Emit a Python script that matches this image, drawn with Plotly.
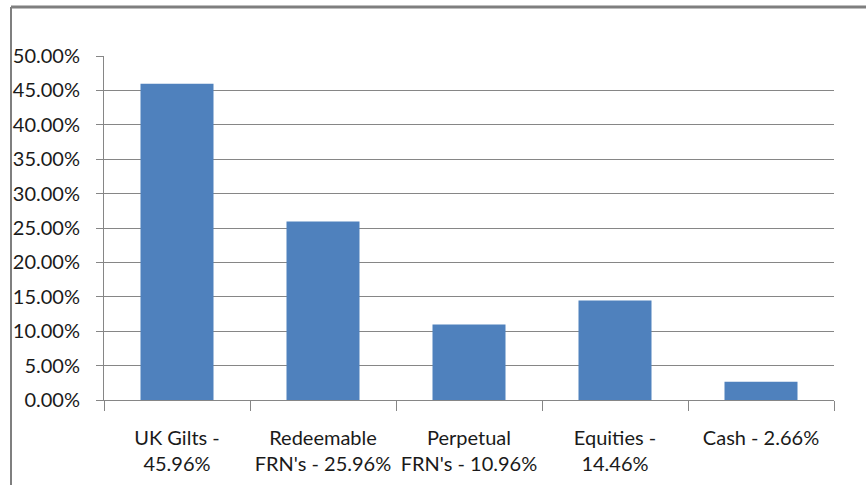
import plotly.graph_objects as go

categories = ["UK Gilts -<br>45.96%", "Redeemable<br>FRN's - 25.96%", "Perpetual<br>FRN's - 10.96%",
              "Equities -<br>14.46%", "Cash - 2.66%"]
values = [0.4596, 0.2596, 0.1096, 0.1446, 0.0266]
y_ticks = [0, 0.05, 0.10, 0.15, 0.20, 0.25, 0.30, 0.35, 0.40, 0.45, 0.50]

W, H = 866, 485
L, R, T, B = 104, 32, 56, 85
pw, ph = W - L - R, H - T - B

def px_x(x):
    return (x - L) / pw

def px_y(y):
    return (H - B - y) / ph

fig = go.Figure(go.Bar(x=categories, y=values, marker=dict(color="#4F81BD", line=dict(width=0)),
                       hoverinfo="skip"))

fam = "Lato, sans-serif"
yfont = dict(family=fam, size=20, color="#1a1a1a")
xfont = dict(family=fam, size=20, color="#1a1a1a")
fig.update_layout(
    width=W, height=H,
    margin=dict(l=L, r=R, t=T, b=B, pad=0, autoexpand=False),
    paper_bgcolor="white", plot_bgcolor="white",
    bargap=0.5, showlegend=False, font=xfont,
    xaxis=dict(showgrid=False, showline=True, linecolor="#868686", linewidth=1,
               ticks="outside", tickson="boundaries", ticklen=10, tickcolor="#868686",
               tickfont=xfont, ticklabelstandoff=20, tickangle=0, automargin=False),
    yaxis=dict(range=[0, 0.5], tickvals=y_ticks, tickformat=".2%",
               showgrid=True, gridcolor="#868686", gridwidth=1,
               showline=True, linecolor="#868686", linewidth=1,
               ticks="outside", ticklen=7, tickcolor="#868686", zeroline=False,
               tickfont=yfont, ticklabelstandoff=12, automargin=False),
    shapes=[
        dict(type="line", xref="paper", yref="paper", x0=px_x(11), x1=px_x(866), y0=px_y(7), y1=px_y(7),
             line=dict(color="#7F7F7F", width=3)),
        dict(type="line", xref="paper", yref="paper", x0=px_x(11), x1=px_x(11), y0=px_y(7), y1=px_y(485),
             line=dict(color="#7F7F7F", width=2)),
    ],
)
fig.write_html("out.html", config={"displayModeBar": False},
               post_script="document.body.style.margin='0';")
